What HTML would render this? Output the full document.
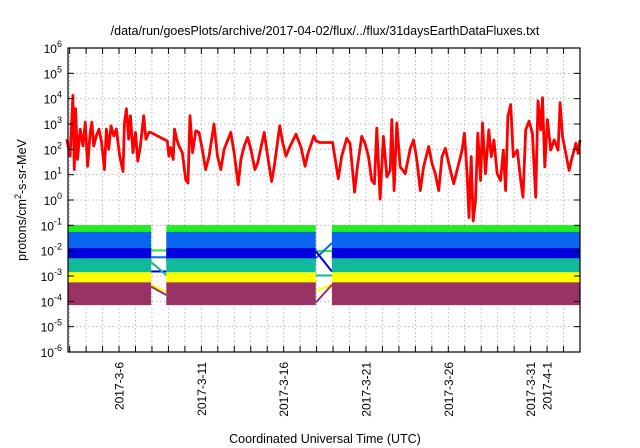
<!DOCTYPE html>
<html><head><meta charset="utf-8"><style>
html,body{margin:0;padding:0;background:#fff;}
svg{display:block;font-family:"Liberation Sans",sans-serif;}
</style></head><body>
<svg id="chart" width="640" height="448" viewBox="0 0 640 448" xmlns="http://www.w3.org/2000/svg">
<rect x="0" y="0" width="640" height="448" fill="#fff"/>
<text x="325" y="35" font-size="12.5" text-anchor="middle">/data/run/goesPlots/archive/2017-04-02/flux/../flux/31daysEarthDataFluxes.txt</text>
<text x="325" y="443" font-size="12.5" text-anchor="middle">Coordinated Universal Time (UTC)</text>
<text transform="translate(26,200) rotate(-90)" font-size="12.5" text-anchor="middle">protons/cm<tspan dy="-5" font-size="9">2</tspan><tspan dy="5">-s-sr-MeV</tspan></text>
<g id="grid"></g><g id="bands"></g><g id="red"></g><g id="axes"></g>
</svg>
<script>
// ---- data (x in March-day units, y as log10 flux) ----
const redDays=[2.83,3.03,3.20,3.28,3.36,3.48,3.64,3.81,3.95,4.09,4.25,4.35,4.46,4.62,4.78,4.94,5.11,5.23,5.37,5.51,5.68,5.84,6.04,6.24,6.33,6.45,6.59,6.69,6.85,7.00,7.14,7.30,7.50,7.63,7.81,7.91,8.93,9.03,9.13,9.29,9.37,9.50,9.64,9.84,10.05,10.19,10.31,10.47,10.66,10.86,11.06,11.26,11.47,11.77,11.98,12.18,12.38,12.79,12.99,13.24,13.40,13.60,13.81,14.01,14.25,14.42,14.82,15.03,15.27,15.43,15.76,15.94,16.14,16.35,16.75,17.06,17.30,17.46,17.83,17.97,18.20,18.97,19.32,19.52,19.83,20.03,20.31,20.48,20.74,20.94,21.15,21.35,21.51,21.66,21.86,22.06,22.27,22.47,22.57,22.71,22.87,23.08,23.38,23.69,23.89,24.09,24.30,24.50,24.81,25.01,25.21,25.42,25.62,25.82,26.03,26.33,26.53,26.84,26.98,27.14,27.26,27.39,27.51,27.65,27.79,27.96,28.08,28.26,28.46,28.61,28.77,28.97,29.18,29.34,29.48,29.62,29.79,29.95,30.19,30.40,30.54,30.70,30.90,31.11,31.31,31.45,31.61,31.72,31.86,32.02,32.22,32.43,32.67,32.79,32.94,33.14,33.34,33.48,33.75,33.89,34.0];
const redLog=[2.40,1.73,4.13,1.20,3.60,1.60,2.80,2.13,3.07,1.33,2.67,3.07,2.13,2.53,2.80,2.27,1.20,2.80,2.00,2.93,2.53,2.80,1.73,1.13,3.07,3.60,2.40,3.33,1.87,2.67,1.53,2.13,3.33,2.40,2.67,2.67,2.33,1.73,2.07,1.60,2.80,2.40,2.13,1.87,0.80,0.67,3.33,1.87,2.73,2.67,2.00,1.20,1.73,3.00,1.73,1.20,2.00,2.67,1.87,0.60,1.60,2.13,2.47,2.00,1.20,1.47,2.67,1.73,0.73,1.33,2.93,2.27,1.73,2.07,2.60,2.07,1.33,1.80,2.53,2.33,2.27,2.27,0.84,1.71,2.44,2.24,0.31,1.31,2.51,2.24,1.71,0.77,0.64,2.84,0.04,2.51,0.91,1.17,3.17,0.37,3.04,1.31,1.04,2.04,2.37,1.57,0.37,1.31,2.11,1.44,1.04,0.37,1.71,2.04,1.44,0.64,1.17,1.97,2.64,1.04,-0.69,1.71,-0.83,-0.03,2.64,0.77,3.04,1.04,2.77,1.71,2.37,1.04,0.77,1.97,0.37,3.31,3.77,1.71,1.97,0.77,0.11,2.77,3.11,2.64,0.11,3.91,2.77,4.04,1.31,3.17,1.97,2.37,1.97,3.84,2.51,1.84,1.17,1.57,2.24,1.84,2.37];
const segStart=[2.9,8.87,18.93];
const segEnd=[7.95,17.95,34.0];
const seriesNames=['green','lightblue','darkblue','teal','yellow','purple'];
const seriesColors=['#22ee22','#0a66ee','#0000dd','#11bb99','#ffff00','#993366'];
const bandTop=[-0.99,-1.26,-1.90,-2.30,-2.85,-3.25];
const bandBottom=[-1.40,-2.40,-2.45,-2.96,-3.30,-4.15];
const gap1From=[-1.99,-2.26,-2.82,-2.45,-3.35,-3.42];
const gap1To=[-1.99,-2.26,-2.82,-2.96,-3.62,-3.75];
const gap2From=[-2.02,-2.30,-2.02,-2.98,-3.62,-4.05];
const gap2To=[-2.02,-1.70,-2.82,-2.98,-3.32,-3.35];
const yTicks=[-6,-5,-4,-3,-2,-1,0,1,2,3,4,5,6];
const xLabelDays=[6,11,16,21,26,31,32];
const xLabels=['2017-3-6','2017-3-11','2017-3-16','2017-3-21','2017-3-26','2017-3-31','2017-4-1'];
const xMinorDays=[3,4,5,6,7,8,9,10,11,12,13,14,15,16,17,18,19,20,21,22,23,24,25,26,27,28,29,30,31,32,33];

const L=68,R=580,T=48,B=352,D0=2.9,D1=34.0,Y0=-6,Y1=6;
const xs=d=>L+(d-D0)/(D1-D0)*(R-L);
const ys=v=>B-(v-Y0)/(Y1-Y0)*(B-T);
const NS='http://www.w3.org/2000/svg';
function mk(tag,attrs,parent){const e=document.createElementNS(NS,tag);for(const k in attrs)e.setAttribute(k,attrs[k]);parent.appendChild(e);return e;}
const grid=document.getElementById('grid'),bands=document.getElementById('bands'),red=document.getElementById('red'),axes=document.getElementById('axes');

xMinorDays.forEach(d=>{const x=xs(d);
 const g=mk('line',{x1:x,x2:x,y1:T,y2:B,stroke:'#aaa','stroke-width':0.8,'stroke-dasharray':'1.5,2.5'},grid);
 
 
 const t1=mk('line',{x1:x,x2:x,y1:B,y2:B-6,stroke:'#000','stroke-width':1},axes);
 
 
 const t2=mk('line',{x1:x,x2:x,y1:T,y2:T+6,stroke:'#000','stroke-width':1},axes);
 
 
});
yTicks.forEach(v=>{const y=ys(v);
 if(v>Y0&&v<Y1){const g=mk('line',{x1:L,x2:R,y1:y,y2:y,stroke:'#aaa','stroke-width':0.8,'stroke-dasharray':'1.5,2.5'},grid);
 
 }
 const t1=mk('line',{x1:L,x2:L+6,y1:y,y2:y,stroke:'#000'},axes);
 
 
 const t2=mk('line',{x1:R,x2:R-6,y1:y,y2:y,stroke:'#000'},axes);
 
 
 const tx=mk('text',{x:L-6,y:y+5,'font-size':12,'text-anchor':'end'},axes);
 
 
 const a=document.createElementNS(NS,'tspan');a.textContent='10';tx.appendChild(a);
 const s=document.createElementNS(NS,'tspan');s.setAttribute('dy','-6');s.setAttribute('font-size','9');s.textContent=String(v);tx.appendChild(s);
});
xLabelDays.forEach((d,i)=>{const x=xs(d);
 const t=mk('text',{transform:`translate(${x+4.5},${B+10}) rotate(-90)`,'font-size':12,'text-anchor':'end'},axes);
 
 
 t.textContent=xLabels[i];
});

seriesNames.forEach((n,i)=>{
 segStart.forEach((s,j)=>{
  const r=mk('rect',{x:xs(s),y:ys(bandTop[i]),width:xs(segEnd[j])-xs(s),height:ys(bandBottom[i])-ys(bandTop[i]),fill:seriesColors[i]},bands);
  
  
 });
 const g1=mk('line',{x1:xs(segEnd[0]),x2:xs(segStart[1]),y1:ys(gap1From[i]),y2:ys(gap1To[i]),stroke:seriesColors[i],'stroke-width':2},bands);
 
 
 const g2=mk('line',{x1:xs(segEnd[1]),x2:xs(segStart[2]),y1:ys(gap2From[i]),y2:ys(gap2To[i]),stroke:seriesColors[i],'stroke-width':2},bands);
 
 
});

const pts=redDays.map((d,i)=>xs(d).toFixed(1)+','+ys(redLog[i]).toFixed(1)).join(' ');
const rl=mk('polyline',{points:pts,fill:'none',stroke:'#ff0000','stroke-width':2.8,'stroke-linejoin':'round'},red);



const fr=mk('rect',{x:L,y:T,width:R-L,height:B-T,fill:'none',stroke:'#000','stroke-width':1.2},axes);


</script>
</body></html>
